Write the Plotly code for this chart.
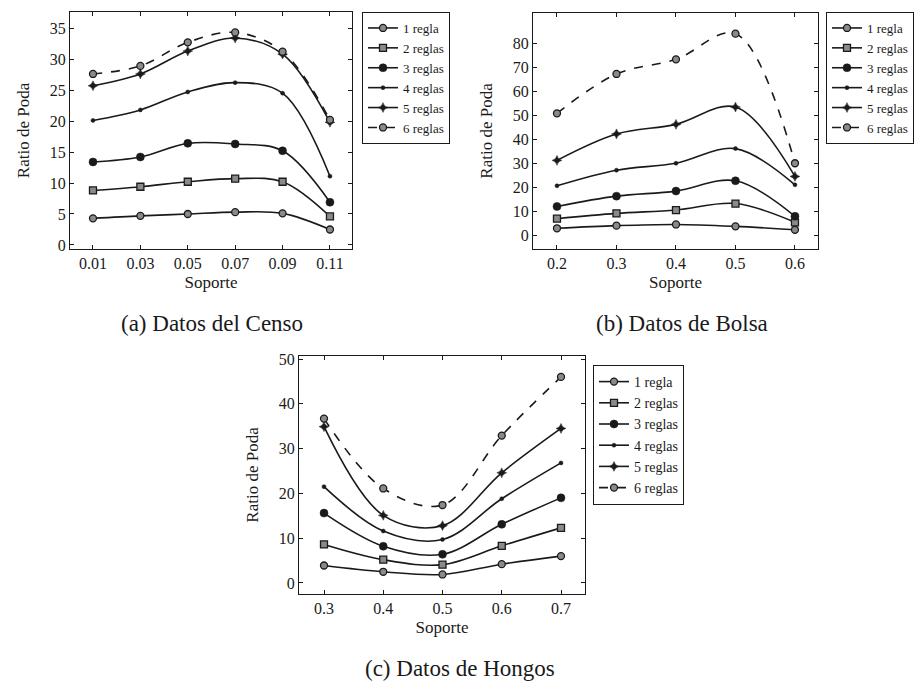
import plotly.graph_objects as go

W, H = 916, 684

series_names = ["1 regla", "2 reglas", "3 reglas", "4 reglas", "5 reglas", "6 reglas"]

# (a) Datos del Censo
censo_x = [0.01, 0.03, 0.05, 0.07, 0.09, 0.11]
censo_1 = [4.3, 4.7, 5.0, 5.3, 5.1, 2.5]
censo_2 = [8.8, 9.4, 10.2, 10.7, 10.2, 4.6]
censo_3 = [13.4, 14.2, 16.4, 16.3, 15.2, 6.9]
censo_4 = [20.1, 21.8, 24.7, 26.2, 24.5, 11.1]
censo_5 = [25.7, 27.6, 31.3, 33.4, 30.8, 19.8]
censo_6 = [27.6, 28.9, 32.7, 34.3, 31.2, 20.2]

# (b) Datos de Bolsa
bolsa_x = [0.2, 0.3, 0.4, 0.5, 0.6]
bolsa_1 = [2.8, 3.9, 4.4, 3.6, 2.2]
bolsa_2 = [6.8, 9.0, 10.4, 13.1, 5.3]
bolsa_3 = [11.9, 16.2, 18.3, 22.6, 7.8]
bolsa_4 = [20.5, 27.0, 29.9, 36.0, 20.9]
bolsa_5 = [31.1, 42.1, 46.1, 53.3, 24.4]
bolsa_6 = [50.7, 67.1, 73.2, 83.9, 29.9]

# (c) Datos de Hongos
hongos_x = [0.3, 0.4, 0.5, 0.6, 0.7]
hongos_1 = [3.9, 2.5, 1.9, 4.2, 6.0]
hongos_2 = [8.6, 5.2, 4.1, 8.3, 12.3]
hongos_3 = [15.6, 8.2, 6.4, 13.1, 19.0]
hongos_4 = [21.5, 11.6, 9.7, 18.8, 26.8]
hongos_5 = [34.9, 15.1, 12.8, 24.6, 34.5]
hongos_6 = [36.7, 21.1, 17.4, 32.9, 46.0]

censo_xticks = [0.01, 0.03, 0.05, 0.07, 0.09, 0.11]
censo_yticks = [0, 5, 10, 15, 20, 25, 30, 35]
bolsa_xticks = [0.2, 0.3, 0.4, 0.5, 0.6]
bolsa_yticks = [0, 10, 20, 30, 40, 50, 60, 70, 80]
hongos_xticks = [0.3, 0.4, 0.5, 0.6, 0.7]
hongos_yticks = [0, 10, 20, 30, 40, 50]

captions = ["(a) Datos del Censo", "(b) Datos de Bolsa", "(c) Datos de Hongos"]

FONT = "Liberation Serif, DejaVu Serif, serif"
INK = "#1a1a1a"
GRAY = "#8a8a8a"

styles = [
    dict(marker=dict(symbol="circle", size=7, color=GRAY, line=dict(color=INK, width=1.3)), dash="solid"),
    dict(marker=dict(symbol="square", size=7, color=GRAY, line=dict(color=INK, width=1.3)), dash="solid"),
    dict(marker=dict(symbol="circle", size=8, color=INK, line=dict(color=INK, width=0.5)), dash="solid"),
    dict(marker=dict(symbol="circle", size=4, color=INK, line=dict(color=INK, width=0.5)), dash="solid"),
    dict(marker=dict(symbol="star-diamond", size=7, color=INK, line=dict(color=INK, width=0.5)), dash="solid"),
    dict(marker=dict(symbol="circle", size=7, color=GRAY, line=dict(color=INK, width=1.3)), dash="dash"),
]

def px_x(p):
    return p / W

def px_y(p):
    return 1 - p / H

panels = [
    dict(x=censo_x, ys=[censo_1, censo_2, censo_3, censo_4, censo_5, censo_6],
         xd=(70, 352), yd=(12, 249), xr=(0.0003, 0.1193), yr=(-0.65, 37.6),
         xt=censo_xticks, yt=censo_yticks, legend="legend", lx=362, ly=12, lfs=13),
    dict(x=bolsa_x, ys=[bolsa_1, bolsa_2, bolsa_3, bolsa_4, bolsa_5, bolsa_6],
         xd=(533, 818), yd=(13, 249), xr=(0.1597, 0.6387), yr=(-5.83, 92.5),
         xt=bolsa_xticks, yt=bolsa_yticks, legend="legend2", lx=826, ly=12, lfs=13),
    dict(x=hongos_x, ys=[hongos_1, hongos_2, hongos_3, hongos_4, hongos_5, hongos_6],
         xd=(299, 585), yd=(356, 594), xr=(0.2578, 0.7405), yr=(-2.46, 50.67),
         xt=hongos_xticks, yt=hongos_yticks, legend="legend3", lx=593, ly=365, lfs=14),
]

fig = go.Figure()
layout = dict(
    width=W, height=H,
    margin=dict(l=0, r=0, t=0, b=0, autoexpand=False),
    paper_bgcolor="white", plot_bgcolor="white",
    font=dict(family=FONT, color=INK, size=14),
    annotations=[],
)

for i, p in enumerate(panels):
    ax = "" if i == 0 else str(i + 1)
    for j, (name, yv) in enumerate(zip(series_names, p["ys"])):
        st = styles[j]
        fig.add_trace(go.Scatter(
            x=p["x"], y=yv, name=name, mode="lines+markers",
            line=dict(color=INK, width=1.6, shape="spline", dash=st["dash"]),
            marker=st["marker"],
            xaxis="x" + ax, yaxis="y" + ax, legend=p["legend"],
        ))
    axis_common = dict(showline=True, linecolor=INK, linewidth=1.2, mirror="allticks",
                       ticks="inside", ticklen=4, tickcolor=INK, showgrid=False,
                       zeroline=False, tickfont=dict(size=16, family=FONT, color=INK))
    layout["xaxis" + ax] = dict(
        domain=[px_x(p["xd"][0]), px_x(p["xd"][1])], range=list(p["xr"]),
        tickvals=p["xt"], ticktext=[f"{v:g}" for v in p["xt"]],
        anchor="y" + ax,
        title=dict(text="Soporte", font=dict(size=17, family=FONT), standoff=4),
        **axis_common)
    layout["yaxis" + ax] = dict(
        domain=[px_y(p["yd"][1]), px_y(p["yd"][0])], range=list(p["yr"]),
        tickvals=p["yt"], anchor="x" + ax,
        title=dict(text="Ratio de Poda", font=dict(size=17, family=FONT), standoff=15),
        **axis_common)
    layout[p["legend"]] = dict(
        x=px_x(p["lx"]), y=px_y(p["ly"]), xanchor="left", yanchor="top",
        bgcolor="white", bordercolor=INK, borderwidth=1,
        font=dict(size=p["lfs"], family=FONT, color=INK),
        tracegroupgap=0, itemwidth=30,
    )

cap_pos = [(212, 324), (682, 324), (460, 668)]
for text, (cx, cy) in zip(captions, cap_pos):
    layout["annotations"].append(dict(
        text=text, x=px_x(cx), y=px_y(cy), xref="paper", yref="paper",
        xanchor="center", yanchor="middle", showarrow=False,
        font=dict(size=23, family=FONT, color=INK)))

fig.update_layout(**layout)
fig.write_html("out.html", config={"displayModeBar": False},
               post_script="document.body.style.margin='0';document.body.style.padding='0';")
